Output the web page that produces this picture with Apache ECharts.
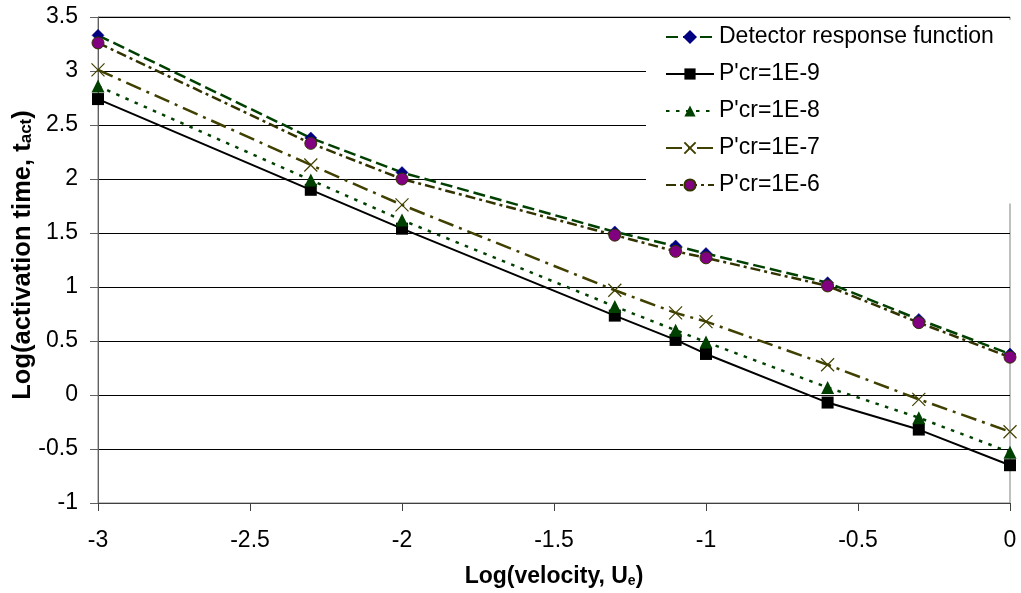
<!DOCTYPE html>
<html>
<head>
<meta charset="utf-8">
<script src="https://cdn.jsdelivr.net/npm/echarts@6/dist/echarts.min.js"></script>
<style>
html,body{margin:0;padding:0;background:#fff;}
#chart{width:1021px;height:593px;}
</style>
</head>
<body>
<div id="chart"></div>
<script>
// Data
var xValues = [-3, -2.3, -2, -1.3, -1.1, -1, -0.6, -0.3, 0];
var detectorResponse = [3.33, 2.38, 2.06, 1.51, 1.38, 1.31, 1.04, 0.70, 0.38];
var pcr1e9 = [2.74, 1.90, 1.54, 0.735, 0.51, 0.38, -0.07, -0.32, -0.65];
var pcr1e8 = [2.86, 1.99, 1.62, 0.82, 0.60, 0.49, 0.07, -0.21, -0.53];
var pcr1e7 = [3.01, 2.13, 1.76, 0.97, 0.76, 0.68, 0.28, -0.04, -0.34];
var pcr1e6 = [3.26, 2.33, 2.00, 1.48, 1.33, 1.27, 1.01, 0.67, 0.35];
var seriesNames = ['Detector response function', "P'cr=1E-9", "P'cr=1E-8", "P'cr=1E-7", "P'cr=1E-6"];

function pairs(ys) {
  return xValues.map(function (x, i) { return [x, ys[i]]; });
}

var FONT = 'Arial, "Liberation Sans", sans-serif';
var FS = 23;
var chart = echarts.init(document.getElementById('chart'), null, {renderer: 'canvas'});

var subX = {fontFamily: FONT, fontSize: 14, fontWeight: 'bold', color: '#000', verticalAlign: 'bottom', lineHeight: 23};
var subY = {fontFamily: FONT, fontSize: 17, fontWeight: 'bold', color: '#000', verticalAlign: 'bottom', lineHeight: 25};

var option = {
  animation: false,
  backgroundColor: '#ffffff',
  textStyle: {fontFamily: FONT},
  grid: {
    left: 98, right: 11, top: 17, bottom: 90,
    containLabel: false, outerBoundsMode: 'none',
    show: true, borderColor: '#808080', borderWidth: 1, backgroundColor: 'transparent'
  },
  legend: {
    orient: 'vertical',
    left: 646, top: 20,
    padding: [5.5, 22, 7, 19],
    backgroundColor: '#ffffff',
    itemWidth: 48, itemHeight: 14, itemGap: 14,
    textStyle: {fontFamily: FONT, fontSize: FS, color: '#000', lineHeight: 23},
    data: seriesNames
  },
  xAxis: {
    type: 'value', min: -3, max: 0, interval: 0.5,
    name: 'Log(velocity, U{sub|e})',
    nameLocation: 'middle', nameGap: 62, nameMoveOverlap: false,
    nameTextStyle: {
      fontFamily: FONT, fontSize: FS, fontWeight: 'bold', color: '#000', lineHeight: 23,
      rich: {sub: subX}
    },
    axisLine: {show: true, onZero: false, lineStyle: {color: '#404040', width: 1}},
    axisTick: {show: true, inside: false, length: 8, lineStyle: {color: '#404040'}},
    axisLabel: {fontFamily: FONT, fontSize: FS, color: '#000', margin: 26},
    splitLine: {show: false}
  },
  yAxis: {
    type: 'value', min: -1, max: 3.5, interval: 0.5,
    name: 'Log(activation time, t{sub|act})',
    nameLocation: 'middle', nameGap: 63, nameRotate: 90, nameMoveOverlap: false,
    nameTextStyle: {
      fontFamily: FONT, fontSize: 25.5, fontWeight: 'bold', color: '#000', lineHeight: 25,
      padding: [0, 0, 0, 10],
      rich: {sub: subY}
    },
    axisLine: {show: true, onZero: false, lineStyle: {color: '#606060', width: 1}},
    axisTick: {show: true, inside: false, length: 8, lineStyle: {color: '#606060'}},
    axisLabel: {fontFamily: FONT, fontSize: FS, color: '#000', margin: 20},
    splitLine: {show: true, lineStyle: {color: '#000', width: 1}}
  },
  series: [
    {
      name: seriesNames[0], type: 'line', data: pairs(detectorResponse),
      symbol: 'diamond', symbolSize: 12,
      lineStyle: {color: '#004000', width: 2.5, type: [12, 5]},
      itemStyle: {color: '#000080', borderColor: '#000080', borderWidth: 0.5}
    },
    {
      name: seriesNames[1], type: 'line', data: pairs(pcr1e9),
      symbol: 'rect', symbolSize: 12,
      lineStyle: {color: '#000000', width: 2, type: 'solid'},
      itemStyle: {color: '#000000'}
    },
    {
      name: seriesNames[2], type: 'line', data: pairs(pcr1e8),
      symbol: 'triangle', symbolSize: 13,
      lineStyle: {color: '#004000', width: 2.5, type: [3.5, 6.5]},
      itemStyle: {color: '#004000'}
    },
    {
      name: seriesNames[3], type: 'line', data: pairs(pcr1e7),
      symbol: 'path://M0,0L10,10M10,0L0,10', symbolSize: 13,
      lineStyle: {color: '#404000', width: 2.5, type: [16, 6, 3, 6]},
      itemStyle: {color: '#404000', borderColor: '#404000', borderWidth: 1.2}
    },
    {
      name: seriesNames[4], type: 'line', data: pairs(pcr1e6),
      symbol: 'circle', symbolSize: 12,
      lineStyle: {color: '#333300', width: 2.5, type: [10, 4, 3, 4]},
      itemStyle: {color: '#800080', borderColor: '#333300', borderWidth: 1}
    }
  ]
};
chart.setOption(option);
</script>
</body>
</html>
